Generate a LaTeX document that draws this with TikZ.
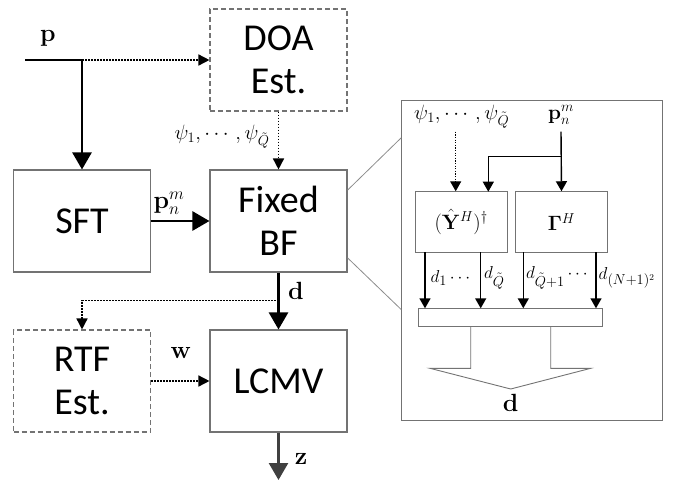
\documentclass[tikz,border=0pt]{standalone}
\usepackage{amsmath,amssymb}
\usepackage[no-math]{fontspec}
\newfontfamily\boxfont{Carlito}
\usetikzlibrary{arrows.meta,calc}
\begin{document}
\begin{tikzpicture}[x=1pt,y=-1pt,
  blk/.style={draw=black!55,line width=1.1pt,minimum width=137pt,minimum height=102pt,inner sep=0pt,
    align=center,font=\boxfont\fontsize{38}{43}\selectfont},
  dblk/.style={blk,dash pattern=on 5pt off 3pt},
  inbox/.style={draw=black!55,line width=0.9pt,inner sep=0pt},
  mainarr/.style={line width=2.6pt,-{Triangle[length=17pt,width=19pt]}},
  dotarr/.style={line width=1.5pt,dash pattern=on 1.5pt off 1.5pt,-{Triangle[length=11pt,width=11pt]}},
  inarr/.style={line width=1.4pt,-{Triangle[length=10pt,width=11pt]}},
  indot/.style={line width=1.3pt,dash pattern=on 1.3pt off 1.3pt,-{Triangle[length=10pt,width=11pt]}},
  lbl/.style={font=\fontsize{20}{24}\selectfont,inner sep=0pt},
  dlab/.style={font=\fontsize{19}{22}\selectfont,inner sep=0pt,anchor=west},
  blbl/.style={font=\fontsize{27}{30}\selectfont,inner sep=0pt},
  zoomline/.style={draw=black!45,line width=0.8pt}]
\useasboundingbox (0,0) rectangle (677,483);

% main blocks
\node[dblk] (doa) at (278.5,60) {DOA\\Est.};
\node[blk] (sft) at (82,221) {SFT};
\node[blk] (fbf) at (278.5,221) {Fixed\\BF};
\node[dblk] (rtf) at (82,381) {RTF\\Est.};
\node[blk] (lcmv) at (278.5,381) {LCMV};

% input
\coordinate (in) at (25,60);
\coordinate (split) at (82,60);
\node[blbl] (plbl) at (48,38) {$\mathbf{p}$};
\draw[line width=2.6pt] (in) -- (split);
\draw[mainarr] (split) -- (sft.north);
\draw[dotarr] (split) -- (doa.west);

\draw[dotarr] (doa.south) -- (fbf.north);
\node[lbl] (psi) at (222,137) {$\psi_1,\cdots,\psi_{\tilde{Q}}$};

\draw[mainarr] (sft.east) -- (fbf.west);
\node[font=\fontsize{23}{26}\selectfont,inner sep=0pt] (pnm) at (169,203) {$\mathbf{p}_n^m$};

\coordinate (dsplit) at (278.5,300.7);
\draw[mainarr] (fbf.south) -- (lcmv.north);
\node[blbl] (dlbl) at (296,291) {$\mathbf{d}$};
\draw[dotarr] (dsplit) -| (rtf.north);

\draw[dotarr] (rtf.east) -- (lcmv.west);
\node[blbl] (wlbl) at (181,353) {$\mathbf{w}$};

\coordinate (zend) at (278.5,480);
\draw[line width=2.6pt,draw=black!75,-{Triangle[length=17pt,width=19pt]}] (lcmv.south) -- (zend);
\node[blbl] (zlbl) at (301,459) {$\mathbf{z}$};

% detail panel
\node[draw=black!55,line width=1pt,minimum width=260.3pt,minimum height=320.7pt,inner sep=0pt] (panel) at (531.85,260.35) {};
\draw[zoomline] ($(fbf.north east)+(0,20.7)$) -- ($(panel.north west)+(0,38.3)$);
\draw[zoomline] ($(fbf.south east)+(0,-14.7)$) -- ($(panel.north west)+(0,210)$);

\node[inbox,minimum width=92.3pt,minimum height=60.6pt,font=\fontsize{21}{24}\selectfont] (ybox) at (461.15,222) {$(\hat{\mathbf{Y}}^H)^\dagger$};
\node[inbox,minimum width=91.6pt,minimum height=60.6pt,font=\fontsize{21}{24}\selectfont] (gbox) at (561.5,222) {$\mathbf{\Gamma}^H$};
\node[inbox,minimum width=184pt,minimum height=17.7pt] (bar) at (510.3,317.15) {};

\node[lbl] (ipsi) at (461.7,116.7) {$\psi_1,\cdots,\psi_{\tilde{Q}}$};
\node[font=\fontsize{22}{26}\selectfont,inner sep=0pt] (ipnm) at (561,115) {$\mathbf{p}_n^m$};

\coordinate (dsrc) at (455.7,131.7);
\draw[indot] (dsrc) -- (dsrc |- ybox.north);
\coordinate (psrc) at (561,131.7);
\coordinate (pbr) at (561,156.7);
\draw[inarr] (psrc) -- (gbox.north);
\draw[inarr,line width=1.1pt] (pbr) -| (488.3,191.7);

\foreach \xx in {425,480.7,523.3,596}{
  \draw[inarr] (\xx,252.3) -- (\xx,308.3);
}
\node[dlab] (d1) at (430.5,278) {$d_1\cdots$};
\node[dlab] (dq) at (484,278) {$d_{\tilde{Q}}$};
\node[dlab] (dq1) at (526,278) {$d_{\tilde{Q}+1}\cdots$};
\node[dlab] (dn) at (598.5,278) {$d_{(N+1)^2}$};

\draw[draw=black!55,line width=0.9pt] (bar.south -| 470.7,0) -- (470.7,368.3) -- (430,368.3) -- (510.7,389) -- (590.7,368.3) -- (550.7,368.3) -- (bar.south -| 550.7,0);
\node[blbl] (dout) at (510.7,403) {$\mathbf{d}$};
\end{tikzpicture}
\end{document}
